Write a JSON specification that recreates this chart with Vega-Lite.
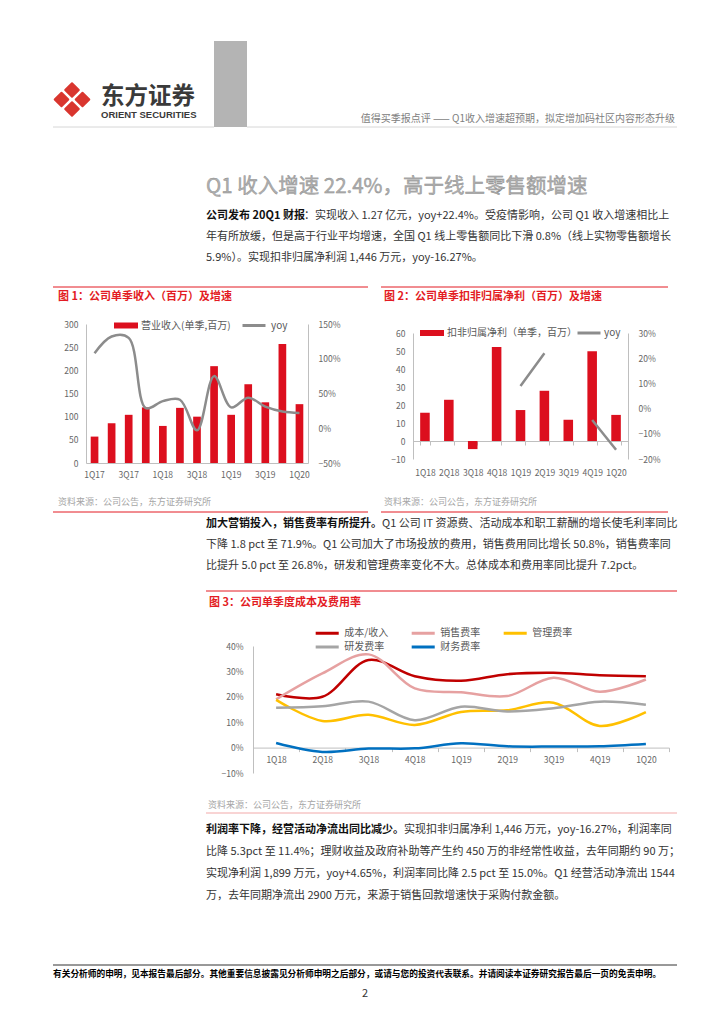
{
"$schema": "https://vega.github.io/schema/vega-lite/v6.json",
"background": "white",
"padding": {"left": 52, "top": 41, "right": 0, "bottom": 0},
"config": {
  "view": {"stroke": null},
  "font": "Noto Sans CJK SC",
  "axis": {"labelFont": "Noto Sans CJK SC", "labelFontSize": 8.5, "labelColor": "#666666", "domainColor": "#BFBFBF", "tickColor": "#BFBFBF", "ticks": false, "grid": false},
  "legend": {"labelFontSize": 10, "labelColor": "#595959", "padding": 0, "labelLimit": 0}
},
"datasets": {
  "rev": [
    {"q": "1Q17", "rev": 57, "yoy": 1.08},
    {"q": "2Q17", "rev": 86, "yoy": 1.32},
    {"q": "3Q17", "rev": 104, "yoy": 1.30},
    {"q": "4Q17", "rev": 120, "yoy": 0.29},
    {"q": "1Q18", "rev": 80, "yoy": 0.39},
    {"q": "2Q18", "rev": 119, "yoy": 0.41},
    {"q": "3Q18", "rev": 100, "yoy": -0.03},
    {"q": "4Q18", "rev": 209, "yoy": 0.75},
    {"q": "1Q19", "rev": 104, "yoy": 0.30},
    {"q": "2Q19", "rev": 170, "yoy": 0.44},
    {"q": "3Q19", "rev": 131, "yoy": 0.31},
    {"q": "4Q19", "rev": 257, "yoy": 0.24},
    {"q": "1Q20", "rev": 127, "yoy": 0.22}
  ],
  "np": [
    {"q": "1Q18", "np": 15.7, "yoy": null},
    {"q": "2Q18", "np": 22.9, "yoy": null},
    {"q": "3Q18", "np": -4.5, "yoy": null},
    {"q": "4Q18", "np": 52.2, "yoy": null},
    {"q": "1Q19", "np": 17.2, "yoy": 0.09},
    {"q": "2Q19", "np": 27.9, "yoy": 0.22},
    {"q": "3Q19", "np": 11.8, "yoy": null},
    {"q": "4Q19", "np": 49.8, "yoy": -0.045},
    {"q": "1Q20", "np": 14.5, "yoy": -0.163}
  ],
  "cost": [
    {"q": "1Q18", "s": "成本/收入", "v": 0.210}, {"q": "2Q18", "s": "成本/收入", "v": 0.200}, {"q": "3Q18", "s": "成本/收入", "v": 0.345}, {"q": "4Q18", "s": "成本/收入", "v": 0.281}, {"q": "1Q19", "s": "成本/收入", "v": 0.263}, {"q": "2Q19", "s": "成本/收入", "v": 0.289}, {"q": "3Q19", "s": "成本/收入", "v": 0.295}, {"q": "4Q19", "s": "成本/收入", "v": 0.285}, {"q": "1Q20", "s": "成本/收入", "v": 0.281},
    {"q": "1Q18", "s": "销售费率", "v": 0.190}, {"q": "2Q18", "s": "销售费率", "v": 0.292}, {"q": "3Q18", "s": "销售费率", "v": 0.367}, {"q": "4Q18", "s": "销售费率", "v": 0.233}, {"q": "1Q19", "s": "销售费率", "v": 0.218}, {"q": "2Q19", "s": "销售费率", "v": 0.203}, {"q": "3Q19", "s": "销售费率", "v": 0.275}, {"q": "4Q19", "s": "销售费率", "v": 0.220}, {"q": "1Q20", "s": "销售费率", "v": 0.268},
    {"q": "1Q18", "s": "管理费率", "v": 0.188}, {"q": "2Q18", "s": "管理费率", "v": 0.105}, {"q": "3Q18", "s": "管理费率", "v": 0.129}, {"q": "4Q18", "s": "管理费率", "v": 0.089}, {"q": "1Q19", "s": "管理费率", "v": 0.140}, {"q": "2Q19", "s": "管理费率", "v": 0.147}, {"q": "3Q19", "s": "管理费率", "v": 0.177}, {"q": "4Q19", "s": "管理费率", "v": 0.085}, {"q": "1Q20", "s": "管理费率", "v": 0.140},
    {"q": "1Q18", "s": "研发费率", "v": 0.157}, {"q": "2Q18", "s": "研发费率", "v": 0.163}, {"q": "3Q18", "s": "研发费率", "v": 0.181}, {"q": "4Q18", "s": "研发费率", "v": 0.108}, {"q": "1Q19", "s": "研发费率", "v": 0.161}, {"q": "2Q19", "s": "研发费率", "v": 0.142}, {"q": "3Q19", "s": "研发费率", "v": 0.155}, {"q": "4Q19", "s": "研发费率", "v": 0.181}, {"q": "1Q20", "s": "研发费率", "v": 0.169},
    {"q": "1Q18", "s": "财务费率", "v": 0.018}, {"q": "2Q18", "s": "财务费率", "v": -0.017}, {"q": "3Q18", "s": "财务费率", "v": -0.004}, {"q": "4Q18", "s": "财务费率", "v": -0.003}, {"q": "1Q19", "s": "财务费率", "v": 0.017}, {"q": "2Q19", "s": "财务费率", "v": 0.005}, {"q": "3Q19", "s": "财务费率", "v": 0.004}, {"q": "4Q19", "s": "财务费率", "v": 0.005}, {"q": "1Q20", "s": "财务费率", "v": 0.014}
  ],
  "p1": [
    {"line": 1, "part": "lead", "text": "公司发布 20Q1 财报"},
    {"line": 1, "part": "cont", "text": "：实现收入 1.27 亿元，yoy+22.4%。受疫情影响，公司 Q1 收入增速相比上"},
    {"line": 2, "part": "body", "text": "年有所放缓，但是高于行业平均增速，全国 Q1 线上零售额同比下滑 0.8%（线上实物零售额增长"},
    {"line": 3, "part": "body", "text": "5.9%）。实现扣非归属净利润 1,446 万元，yoy-16.27%。"}
  ],
  "p2": [
    {"line": 1, "part": "lead", "text": "加大营销投入，销售费率有所提升。"},
    {"line": 1, "part": "cont", "text": "Q1 公司 IT 资源费、活动成本和职工薪酬的增长使毛利率同比"},
    {"line": 2, "part": "body", "text": "下降 1.8 pct 至 71.9%。Q1 公司加大了市场投放的费用，销售费用同比增长 50.8%，销售费率同"},
    {"line": 3, "part": "body", "text": "比提升 5.0 pct 至 26.8%，研发和管理费率变化不大。总体成本和费用率同比提升 7.2pct。"}
  ],
  "p3": [
    {"line": 1, "part": "lead", "text": "利润率下降，经营活动净流出同比减少。"},
    {"line": 1, "part": "cont", "text": "实现扣非归属净利 1,446 万元，yoy-16.27%，利润率同"},
    {"line": 2, "part": "body", "text": "比降 5.3pct 至 11.4%；理财收益及政府补助等产生约 450 万的非经常性收益，去年同期约 90 万；"},
    {"line": 3, "part": "body", "text": "实现净利润 1,899 万元，yoy+4.65%，利润率同比降 2.5 pct 至 15.0%。Q1 经营活动净流出 1544"},
    {"line": 4, "part": "body", "text": "万，去年同期净流出 2900 万元，来源于销售回款增速快于采购付款金额。"}
  ]
},
"columns": 1,
"align": "none",
"spacing": 0,
"resolve": {"scale": {"color": "independent", "fill": "independent", "stroke": "independent"}, "legend": {"color": "independent", "fill": "independent", "stroke": "independent"}},
"concat": [
  {
    "hconcat": [
      {
        "width": 48, "height": 86,
        "layer": [
          {
            "data": {"values": [{"h": 0, "v": 1}, {"h": -1, "v": 0}, {"h": 1, "v": 0}, {"h": 0, "v": -1}]},
            "mark": {"type": "point", "shape": "diamond", "filled": true, "size": 185, "color": "#D9362F", "stroke": "#D9362F", "strokeWidth": 2, "strokeJoin": "round", "opacity": 1},
            "encoding": {
              "x": {"field": "h", "type": "quantitative", "scale": {"domain": [-1.81, 2.762], "nice": false, "zero": false}, "axis": null},
              "y": {"field": "v", "type": "quantitative", "scale": {"domain": [-2.895, 6.158], "nice": false, "zero": false}, "axis": null}
            }
          },
          {"data": {"values": [{}]}, "mark": {"type": "rule", "color": "#D6D6D6", "strokeWidth": 1}, "encoding": {"y": {"value": "height"}}}
        ]
      },
      {
        "width": 113, "height": 86,
        "data": {"values": [{"k": 1, "t": "东方证券"}, {"k": 2, "t": "ORIENT SECURITIES"}]},
        "layer": [
          {
            "transform": [{"filter": "datum.k == 1"}],
            "mark": {"type": "text", "align": "left", "fontSize": 23.5, "fontWeight": "bold", "color": "#3A3A3A"},
            "encoding": {"x": {"value": 0}, "y": {"field": "k", "type": "quantitative", "scale": {"domain": [-2.0833, 2.6944], "reverse": true, "nice": false, "zero": false}, "axis": null}, "text": {"field": "t"}}
          },
          {
            "transform": [{"filter": "datum.k == 2"}],
            "mark": {"type": "text", "align": "left", "fontSize": 9.5, "fontWeight": "bold", "font": "Liberation Sans", "color": "#3A3A3A"},
            "encoding": {"x": {"value": 0}, "y": {"field": "k", "type": "quantitative", "axis": null}, "text": {"field": "t"}}
          },
          {"data": {"values": [{}]}, "mark": {"type": "rule", "color": "#D6D6D6", "strokeWidth": 1}, "encoding": {"y": {"value": "height"}}}
        ]
      },
      {
        "width": 33, "height": 86,
        "view": {"fill": "#B4B4B4", "stroke": null},
        "data": {"values": []},
        "mark": "text"
      },
      {
        "width": 430, "height": 86,
        "data": {"values": [{"t": "值得买季报点评 —— Q1收入增速超预期，拟定增加码社区内容形态升级"}]},
        "layer": [
          {"mark": {"type": "text", "align": "right", "baseline": "bottom", "dx": -2, "dy": -3, "fontSize": 10, "color": "#808080"}, "encoding": {"x": {"value": "width"}, "y": {"value": "height"}, "text": {"field": "t"}}},
          {"mark": {"type": "rule", "color": "#D6D6D6", "strokeWidth": 1}, "encoding": {"y": {"value": "height"}}}
        ]
      }
    ],
    "spacing": 0, "bounds": "flush"
  },
  {"width": 1, "height": 41, "data": {"values": []}, "mark": "text"},
  {
    "hconcat": [
      {"width": 153, "height": 1, "data": {"values": []}, "mark": "text"},
      {
        "width": 471, "height": 36,
        "data": {"values": [{"t": "Q1 收入增速 22.4%，高于线上零售额增速"}]},
        "mark": {"type": "text", "align": "left", "fontSize": 20.5, "color": "#B0B0B0", "stroke": "#8A8A8A", "strokeWidth": 0.4},
        "encoding": {"x": {"value": 0}, "text": {"field": "t"}}
      }
    ],
    "spacing": 0, "bounds": "flush"
  },
  {
    "hconcat": [
      {"width": 153, "height": 1, "data": {"values": []}, "mark": "text"},
      {
        "width": 471, "height": 63,
        "data": {"name": "p1"},
        "layer": [
          {"transform": [{"filter": "datum.part == 'lead'"}], "mark": {"type": "text", "align": "left", "fontSize": 11, "fontWeight": "bold", "color": "#111111"}, "encoding": {"x": {"value": 0}, "y": {"field": "line", "type": "ordinal", "scale": {"type": "point", "domain": [1, 2, 3], "padding": 0.5}, "axis": null}, "text": {"field": "text"}}},
          {"transform": [{"filter": "datum.part == 'cont'"}], "mark": {"type": "text", "align": "left", "fontSize": 11, "dx": 98, "color": "#333333"}, "encoding": {"x": {"value": 0}, "y": {"field": "line", "type": "ordinal", "axis": null}, "text": {"field": "text"}}},
          {"transform": [{"filter": "datum.part == 'body'"}], "mark": {"type": "text", "align": "left", "fontSize": 11, "color": "#333333"}, "encoding": {"x": {"value": 0}, "y": {"field": "line", "type": "ordinal", "axis": null}, "text": {"field": "text"}}}
        ]
      }
    ],
    "spacing": 0, "bounds": "flush"
  },
  {"width": 1, "height": 18, "data": {"values": []}, "mark": "text"},
  {
    "hconcat": [
      {
        "width": 315, "height": 20,
        "data": {"values": [{"t": "图 1：公司单季收入（百万）及增速"}]},
        "layer": [
          {"mark": {"type": "rule", "color": "#E31B23", "strokeWidth": 1}, "encoding": {"y": {"value": 0}}},
          {"mark": {"type": "text", "align": "left", "dx": 5, "fontSize": 11, "fontWeight": "bold", "color": "#E31B23"}, "encoding": {"x": {"value": 0}, "text": {"field": "t"}}}
        ]
      },
      {
        "width": 287, "height": 20,
        "data": {"values": [{"t": "图 2：公司单季扣非归属净利（百万）及增速"}]},
        "layer": [
          {"mark": {"type": "rule", "color": "#E31B23", "strokeWidth": 1}, "encoding": {"y": {"value": 0}}},
          {"mark": {"type": "text", "align": "left", "dx": 3, "fontSize": 11, "fontWeight": "bold", "color": "#E31B23"}, "encoding": {"x": {"value": 0}, "text": {"field": "t"}}}
        ]
      }
    ],
    "spacing": 13, "bounds": "flush"
  },
  {"width": 1, "height": 5, "data": {"values": []}, "mark": "text"},
  {
    "hconcat": [
      {"width": 33, "height": 1, "data": {"values": []}, "mark": "text"},
      {
        "width": 222, "height": 139,
        "data": {"name": "rev"},
        "layer": [
          {
            "mark": {"type": "bar", "color": "#DC0F1E"},
            "encoding": {
              "x": {"field": "q", "type": "ordinal", "sort": null, "title": null, "scale": {"type": "band", "paddingInner": 0.55, "paddingOuter": 0.275}, "axis": {"values": ["1Q17", "3Q17", "1Q18", "3Q18", "1Q19", "3Q19", "1Q20"], "labelAngle": 0, "labelPadding": 7}},
              "y": {"field": "rev", "type": "quantitative", "title": null, "scale": {"domain": [0, 300], "nice": false}, "axis": {"orient": "left", "values": [0, 50, 100, 150, 200, 250, 300], "labelPadding": 8}},
              "fill": {"datum": "营业收入(单季,百万)", "type": "nominal", "scale": {"range": ["#DC0F1E"]}, "legend": {"orient": "none", "legendX": 28, "legendY": -10.5, "title": null, "symbolType": "M-1,-0.25H1V0.25H-1Z", "symbolSize": 576, "symbolStrokeWidth": 0, "labelOffset": 3}}
            }
          },
          {
            "mark": {"type": "line", "interpolate": "catmull-rom", "strokeWidth": 2.5},
            "encoding": {
              "x": {"field": "q", "type": "ordinal", "sort": null, "bandPosition": 0.5, "title": null},
              "y": {"field": "yoy", "type": "quantitative", "title": null, "scale": {"domain": [-0.5, 1.5], "nice": false}, "axis": {"orient": "right", "values": [-0.5, 0, 0.5, 1, 1.5], "format": ".0%", "labelPadding": 10}},
              "stroke": {"datum": "yoy", "type": "nominal", "scale": {"range": ["#8C8C8C"]}, "legend": {"orient": "none", "legendX": 155, "legendY": -11.5, "title": null, "symbolType": "stroke", "symbolSize": 529, "symbolStrokeWidth": 3, "labelOffset": 4}}
            }
          }
        ],
        "resolve": {"scale": {"y": "independent"}}
      },
      {"width": 105, "height": 1, "data": {"values": []}, "mark": "text"},
      {
        "vconcat": [
          {"width": 1, "height": 9, "data": {"values": []}, "mark": "text"},
          {
            "width": 215, "height": 126,
            "data": {"name": "np"},
            "layer": [
              {
                "mark": {"type": "bar", "color": "#DC0F1E"},
                "encoding": {
                  "x": {"field": "q", "type": "ordinal", "sort": null, "title": null, "scale": {"type": "band", "paddingInner": 0.6, "paddingOuter": 0.3}, "axis": {"labelAngle": 0, "offset": -18, "ticks": true, "tickBand": "extent", "tickSize": 4, "labelPadding": 23}},
                  "y": {"field": "np", "type": "quantitative", "title": null, "scale": {"domain": [-10, 60], "nice": false}, "axis": {"orient": "left", "values": [-10, 0, 10, 20, 30, 40, 50, 60], "labelPadding": 8}},
                  "fill": {"datum": "扣非归属净利（单季，百万）", "type": "nominal", "scale": {"range": ["#DC0F1E"]}, "legend": {"orient": "none", "legendX": 7, "legendY": -12, "title": null, "symbolType": "M-1,-0.25H1V0.25H-1Z", "symbolSize": 576, "symbolStrokeWidth": 0, "labelOffset": 3}}
                }
              },
              {
                "mark": {"type": "line", "strokeWidth": 2.5, "invalid": "break-paths-show-domains"},
                "encoding": {
                  "x": {"field": "q", "type": "ordinal", "sort": null, "bandPosition": 0.5, "title": null},
                  "y": {"field": "yoy", "type": "quantitative", "title": null, "scale": {"domain": [-0.2, 0.3], "nice": false}, "axis": {"orient": "right", "values": [-0.2, -0.1, 0, 0.1, 0.2, 0.3], "format": ".0%", "labelPadding": 10}},
                  "stroke": {"datum": "yoy", "type": "nominal", "scale": {"range": ["#8C8C8C"]}, "legend": {"orient": "none", "legendX": 163, "legendY": -13, "title": null, "symbolType": "stroke", "symbolSize": 529, "symbolStrokeWidth": 3, "labelOffset": 2}}
                }
              }
            ],
            "resolve": {"scale": {"y": "independent"}}
          }
        ],
        "spacing": 0, "bounds": "flush",
        "resolve": {"scale": {"fill": "independent", "stroke": "independent"}, "legend": {"fill": "independent", "stroke": "independent"}}
      }
    ],
    "spacing": 0, "bounds": "flush",
    "resolve": {"scale": {"fill": "independent", "stroke": "independent"}, "legend": {"fill": "independent", "stroke": "independent"}}
  },
  {"width": 1, "height": 13, "data": {"values": []}, "mark": "text"},
  {
    "hconcat": [
      {
        "width": 315, "height": 20,
        "data": {"values": [{"t": "资料来源：公司公告，东方证券研究所"}]},
        "layer": [
          {"mark": {"type": "text", "align": "left", "dx": 5, "fontSize": 9, "color": "#A6A6A6"}, "encoding": {"x": {"value": 0}, "text": {"field": "t"}}},
          {"mark": {"type": "rule", "color": "#E31B23", "strokeWidth": 1}, "encoding": {"y": {"value": "height"}}}
        ]
      },
      {
        "width": 287, "height": 20,
        "data": {"values": [{"t": "资料来源：公司公告，东方证券研究所"}]},
        "layer": [
          {"mark": {"type": "text", "align": "left", "dx": 3, "fontSize": 9, "color": "#A6A6A6"}, "encoding": {"x": {"value": 0}, "text": {"field": "t"}}},
          {"mark": {"type": "rule", "color": "#E31B23", "strokeWidth": 1}, "encoding": {"y": {"value": "height"}}}
        ]
      }
    ],
    "spacing": 13, "bounds": "flush"
  },
  {
    "hconcat": [
      {"width": 153, "height": 1, "data": {"values": []}, "mark": "text"},
      {
        "width": 471, "height": 63,
        "data": {"name": "p2"},
        "layer": [
          {"transform": [{"filter": "datum.part == 'lead'"}], "mark": {"type": "text", "align": "left", "fontSize": 11, "fontWeight": "bold", "color": "#111111"}, "encoding": {"x": {"value": 0}, "y": {"field": "line", "type": "ordinal", "scale": {"type": "point", "domain": [1, 2, 3], "padding": 0.5}, "axis": null}, "text": {"field": "text"}}},
          {"transform": [{"filter": "datum.part == 'cont'"}], "mark": {"type": "text", "align": "left", "fontSize": 11, "dx": 176, "color": "#333333"}, "encoding": {"x": {"value": 0}, "y": {"field": "line", "type": "ordinal", "axis": null}, "text": {"field": "text"}}},
          {"transform": [{"filter": "datum.part == 'body'"}], "mark": {"type": "text", "align": "left", "fontSize": 11, "color": "#333333"}, "encoding": {"x": {"value": 0}, "y": {"field": "line", "type": "ordinal", "axis": null}, "text": {"field": "text"}}}
        ]
      }
    ],
    "spacing": 0, "bounds": "flush"
  },
  {"width": 1, "height": 14, "data": {"values": []}, "mark": "text"},
  {
    "hconcat": [
      {"width": 153, "height": 1, "data": {"values": []}, "mark": "text"},
      {
        "width": 471, "height": 24,
        "data": {"values": [{"t": "图 3：公司单季度成本及费用率"}]},
        "layer": [
          {"mark": {"type": "rule", "color": "#E31B23", "strokeWidth": 1}, "encoding": {"y": {"value": 0}}},
          {"mark": {"type": "text", "align": "left", "dx": 3, "fontSize": 11, "fontWeight": "bold", "color": "#E31B23"}, "encoding": {"x": {"value": 0}, "text": {"field": "t"}}}
        ]
      }
    ],
    "spacing": 0, "bounds": "flush"
  },
  {"width": 1, "height": 12, "data": {"values": []}, "mark": "text"},
  {
    "hconcat": [
      {"width": 200, "height": 1, "data": {"values": []}, "mark": "text"},
      {
        "width": 416, "height": 127,
        "data": {"name": "cost"},
        "mark": {"type": "line", "interpolate": "catmull-rom", "strokeWidth": 2.5},
        "encoding": {
          "x": {"field": "q", "type": "ordinal", "sort": null, "bandPosition": 0.5, "title": null, "scale": {"type": "band", "paddingInner": 0, "paddingOuter": 0}, "axis": {"labelAngle": 0, "offset": -25.4, "ticks": true, "tickBand": "extent", "tickSize": 4, "labelPadding": 4}},
          "y": {"field": "v", "type": "quantitative", "title": null, "scale": {"domain": [-0.1, 0.4], "nice": false}, "axis": {"values": [-0.1, 0, 0.1, 0.2, 0.3, 0.4], "format": ".0%", "labelPadding": 10}},
          "color": {"field": "s", "type": "nominal", "title": null, "scale": {"domain": ["成本/收入", "销售费率", "管理费率", "研发费率", "财务费率"], "range": ["#C00000", "#E6A1A1", "#FFC000", "#A5A5A5", "#0070C0"]}, "legend": {"orient": "none", "legendX": 68.7, "legendY": -18.5, "columns": 3, "direction": "horizontal", "symbolType": "M-3,0H3", "symbolSize": 59, "symbolStrokeWidth": 3, "labelOffset": 11.6, "columnPadding": 16, "rowPadding": 1}}
        }
      }
    ],
    "spacing": 0, "bounds": "flush",
    "resolve": {"scale": {"color": "independent"}, "legend": {"color": "independent"}}
  },
  {"width": 1, "height": 19, "data": {"values": []}, "mark": "text"},
  {
    "hconcat": [
      {"width": 153, "height": 1, "data": {"values": []}, "mark": "text"},
      {
        "width": 471, "height": 16,
        "data": {"values": [{"t": "资料来源：公司公告，东方证券研究所"}]},
        "layer": [
          {"mark": {"type": "text", "align": "left", "dx": 2, "fontSize": 9, "color": "#A6A6A6"}, "encoding": {"x": {"value": 0}, "text": {"field": "t"}}},
          {"mark": {"type": "rule", "color": "#F2A9A9", "strokeWidth": 1}, "encoding": {"y": {"value": "height"}}}
        ]
      }
    ],
    "spacing": 0, "bounds": "flush"
  },
  {"width": 1, "height": 5, "data": {"values": []}, "mark": "text"},
  {
    "hconcat": [
      {"width": 153, "height": 1, "data": {"values": []}, "mark": "text"},
      {
        "width": 471, "height": 88,
        "data": {"name": "p3"},
        "layer": [
          {"transform": [{"filter": "datum.part == 'lead'"}], "mark": {"type": "text", "align": "left", "fontSize": 11, "fontWeight": "bold", "color": "#111111"}, "encoding": {"x": {"value": 0}, "y": {"field": "line", "type": "ordinal", "scale": {"type": "point", "domain": [1, 2, 3, 4], "padding": 0.5}, "axis": null}, "text": {"field": "text"}}},
          {"transform": [{"filter": "datum.part == 'cont'"}], "mark": {"type": "text", "align": "left", "fontSize": 11, "dx": 198, "color": "#333333"}, "encoding": {"x": {"value": 0}, "y": {"field": "line", "type": "ordinal", "axis": null}, "text": {"field": "text"}}},
          {"transform": [{"filter": "datum.part == 'body'"}], "mark": {"type": "text", "align": "left", "fontSize": 11, "color": "#333333"}, "encoding": {"x": {"value": 0}, "y": {"field": "line", "type": "ordinal", "axis": null}, "text": {"field": "text"}}}
        ]
      }
    ],
    "spacing": 0, "bounds": "flush"
  },
  {"width": 1, "height": 57, "data": {"values": []}, "mark": "text"},
  {
    "width": 624, "height": 18,
    "data": {"values": [{"t": "有关分析师的申明，见本报告最后部分。其他重要信息披露见分析师申明之后部分，或请与您的投资代表联系。并请阅读本证券研究报告最后一页的免责申明。"}]},
    "layer": [
      {"mark": {"type": "rule", "color": "#333333", "strokeWidth": 1}, "encoding": {"y": {"value": 0}}},
      {"mark": {"type": "text", "align": "left", "fontSize": 8.7, "fontWeight": "bold", "color": "#000000"}, "encoding": {"x": {"value": 0}, "text": {"field": "t"}}}
    ]
  },
  {
    "width": 624, "height": 22,
    "data": {"values": [{"t": "2"}]},
    "mark": {"type": "text", "fontSize": 11, "color": "#333333"},
    "encoding": {"text": {"field": "t"}}
  }
]
}
